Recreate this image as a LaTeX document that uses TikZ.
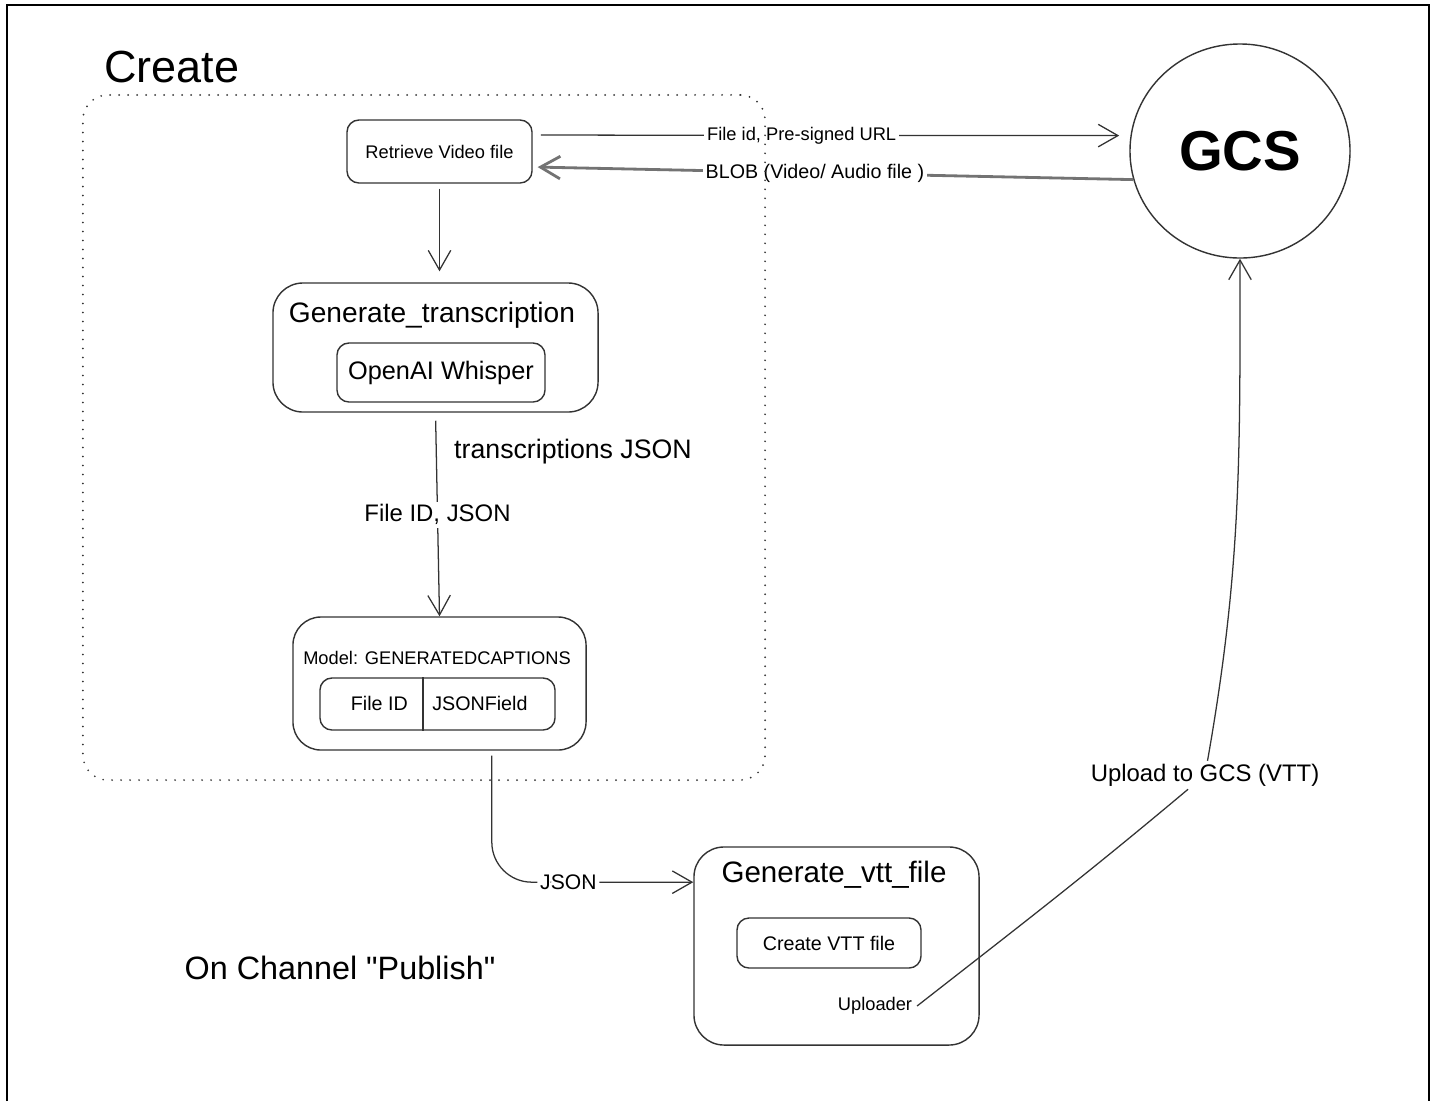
\documentclass[tikz,border=0pt]{standalone}
\usepackage{fontspec}
\setmainfont{Liberation Sans}[Ligatures=TeXOff]
\usetikzlibrary{arrows.meta,shapes.geometric}
\definecolor{Ink}{rgb}{0.2,0.2,0.2}
\definecolor{BlobGrey}{rgb}{0.45,0.45,0.45}

\begin{document}
\begin{tikzpicture}[x=0.025cm,y=0.025cm,
  fs/.style={font=\fontsize{#1}{#1}\selectfont},
  box/.style={draw=Ink,line width=1pt,rounded corners=#1,inner sep=0pt},
  lbl/.style={fill=white,inner sep=2pt},
  arr/.style={draw=Ink,line width=.9pt,-{Straight Barb[length=14pt,width=16pt]}},
  arrthick/.style={draw=BlobGrey,line width=2pt,-{Straight Barb[length=14pt,width=16pt]}}]
\useasboundingbox (0,0) rectangle (1437,-1101);
\fill[white] (0,0) rectangle (1437,-1101);
\draw[line width=1.7pt] (7,-1101) -- (7,-5) -- (1429,-5) -- (1429,-1101);

\node[fs=32] (createtxt) at (172,-67) {Create};
\node[box=.3cm,minimum width=4.625cm,minimum height=1.575cm,fs=13] (retrieve) at (439.5,-151.5) {Retrieve Video file};
\node[box=.75cm,minimum width=8.125cm,minimum height=3.225cm] (gentr) at (435.5,-347.5) {};
\node[fs=20] (gentrtitle) at (432,-315) {Generate\_transcription};
\node[box=.3cm,minimum width=5.2cm,minimum height=1.475cm,fs=18] (whisper) at (441,-372.5) {OpenAI Whisper};
\node[fs=19] (trjson) at (573,-452) {transcriptions JSON};
\node[box=.7cm,minimum width=7.325cm,minimum height=3.325cm] (model) at (439.5,-683.5) {};
\node[fs=13] (modeltitle) at (437,-658) {Model: GENERATEDCAPTIONS};
\node[box=.3cm,minimum width=5.875cm,minimum height=1.3cm] (fields) at (437.5,-704) {};
\node[fs=14,anchor=east,inner xsep=10.6pt] (fileid) at (423,-703) {File ID};
\node[fs=14,anchor=west,inner xsep=6.4pt] (jsonfield) at (423,-703) {JSONField};
\draw[draw=Ink,line width=1pt] (fileid.east |- fields.north) -- (fileid.east |- fields.south);
\node[box=.75cm,minimum width=7.125cm,minimum height=4.95cm] (vtt) at (836.5,-946) {};
\node[fs=21] (vtttitle) at (834,-875) {Generate\_vtt\_file};
\node[box=.3cm,minimum width=4.6cm,minimum height=1.25cm,fs=14] (createvtt) at (829,-943) {Create VTT file};
\node[fs=13] (upl) at (875,-1006) {Uploader};
\node[ellipse,draw=Ink,line width=1pt,minimum width=5.5cm,minimum height=5.35cm,fs=40] (gcs) at (1240,-151) {\bfseries GCS};
\node[fs=23] (publish) at (340,-968) {On Channel "Publish"};

\draw[arr,shorten <=3.5pt,shorten >=7.8pt] (retrieve.south) -- (retrieve.south |- gentr.north);
\draw[arr,shorten <=5.7pt] (gentr.south) -- node[lbl,fs=17] {File ID, JSON} (model.north);
\draw[arr,shorten <=5.7pt,shorten >=8pt] ([yshift=11.7pt]retrieve.east) -- node[lbl,fs=13,pos=.45] {File id, Pre-signed URL} (gcs.172);
\draw[arrthick,shorten >=3.5pt] (gcs.195) -- node[lbl,fs=14,pos=.53] {BLOB (Video/ Audio file )} ([yshift=-11pt]retrieve.east);
\draw[arr,rounded corners=1cm,shorten <=3.5pt] ([xshift=37.2pt]model.south) |- node[lbl,fs=15,pos=.69] {JSON} ([yshift=45.4pt]vtt.west);
\node[lbl,fs=17] (upllbl) at (1205,-775) {Upload to GCS (VTT)};
\draw[arr] (upl.east) to[out=38,in=-140] (upllbl) to[out=80,in=-90] (gcs.south);

\node[draw=Ink,line width=1.4pt,line cap=round,dash pattern=on 0pt off 6.4pt,rounded corners=.625cm,minimum width=17.05cm,minimum height=17.125cm] (createzone) at (424,-437.5) {};
\end{tikzpicture}
\end{document}
